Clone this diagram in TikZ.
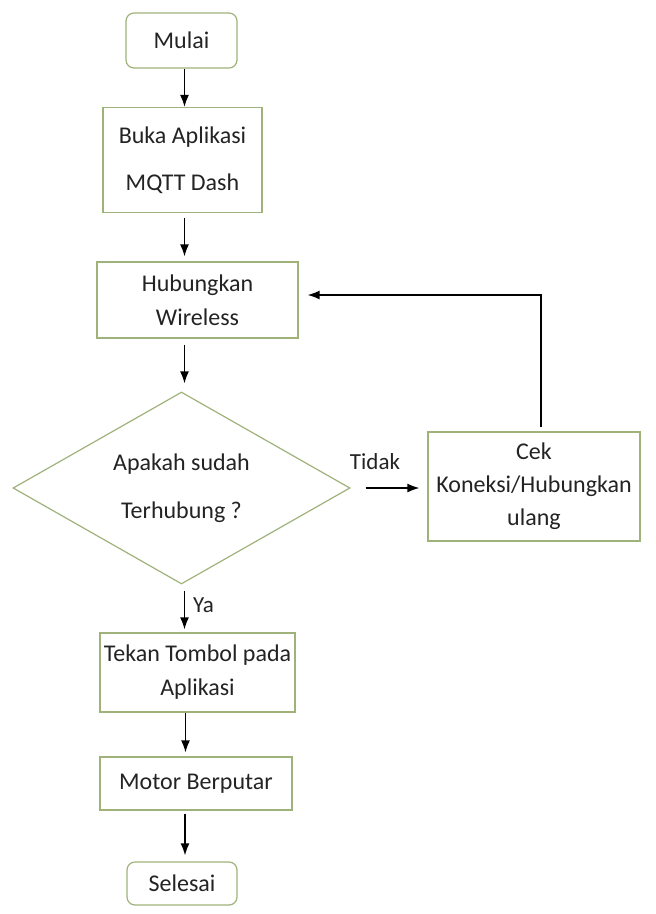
\documentclass[tikz,border=0pt]{standalone}
\usepackage{fontspec}
\setmainfont{Carlito}
\usetikzlibrary{arrows.meta,shapes.geometric}
\definecolor{boxc}{RGB}{158,178,122}
\definecolor{txtc}{RGB}{35,35,35}
\begin{document}
\begin{tikzpicture}[x=1pt,y=-1pt,
  every node/.style={text=txtc},
  procbox/.style={draw=boxc, line width=1.2pt, inner sep=0pt, align=center,
    font=\fontsize{24}{34}\selectfont},
  termbox/.style={procbox, rounded corners=8pt},
  decbox/.style={draw=boxc, line width=1.2pt, diamond, aspect=1.75, inner sep=0pt, align=center,
    font=\fontsize{24}{48}\selectfont},
  arr/.style={-{Latex[length=12pt,width=9pt]}, line width=1.5pt, black},
  lbl/.style={font=\fontsize{23}{26}\selectfont, inner sep=0pt}]
\useasboundingbox (0,0) rectangle (656,914);

\node[termbox, minimum width=111pt, minimum height=55pt] (start) at (181.5,40.5) {Mulai};
\node[procbox, minimum width=159pt, minimum height=105pt, font=\fontsize{24}{47}\selectfont] (buka) at (182.5,160) {Buka Aplikasi\\MQTT Dash};
\node[procbox, minimum width=201pt, minimum height=76pt] (hub) at (197.5,300) {Hubungkan\\Wireless};
\node[decbox, minimum width=337pt, minimum height=192pt] (dia) at (181.5,488) {Apakah sudah\\Terhubung ?};
\node[procbox, minimum width=212pt, minimum height=109pt, font=\fontsize{24}{33}\selectfont] (cek) at (534,486.5) {Cek\\Koneksi/Hubungkan\\ulang};
\node[procbox, minimum width=195pt, minimum height=79pt] (tekan) at (197.5,672.5) {Tekan Tombol pada\\Aplikasi};
\node[procbox, minimum width=192pt, minimum height=53pt] (motor) at (196,783.5) {Motor Berputar};
\node[termbox, minimum width=110pt, minimum height=43pt] (selesai) at (182,883.5) {Selesai};

\node[lbl] (tidak) at (375,462) {Tidak};
\node[lbl, anchor=west] (ya) at (193,605) {Ya};

\draw[arr] ([xshift=3pt]start.south) -- ([xshift=3pt]start.south |- buka.north);
\draw[arr, shorten <=5pt, shorten >=5pt] ([xshift=2pt]buka.south) -- ([xshift=2pt]buka.south |- hub.north);
\draw[arr, shorten <=6pt, shorten >=8pt] ([xshift=3pt]dia.north |- hub.south) -- ([xshift=3pt]dia.north);
\draw[arr, shorten <=15pt, shorten >=8pt] (dia.east) -- (dia.east -| cek.west);
\draw[arr, shorten >=9pt] ([xshift=7pt,yshift=4pt]cek.north) |- ([yshift=5pt]hub.east);
\draw[arr, shorten <=6pt, shorten >=3pt] ([xshift=3pt]dia.south) -- ([xshift=3pt]dia.south |- tekan.north);
\draw[arr, shorten >=4pt] ([xshift=-12pt]tekan.south) -- ([xshift=-12pt]tekan.south |- motor.north);
\draw[arr, shorten <=3pt, shorten >=6pt] ([xshift=-11pt]motor.south) -- ([xshift=-11pt]motor.south |- selesai.north);
\end{tikzpicture}
\end{document}
